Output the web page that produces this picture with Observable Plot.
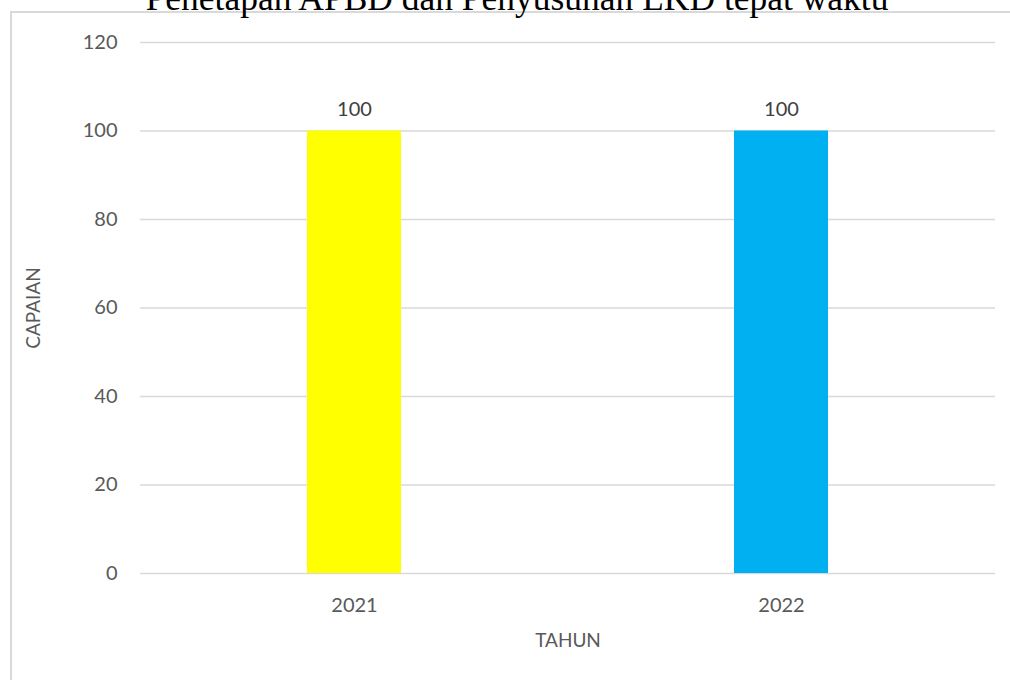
<!DOCTYPE html>
<html>
<head>
<meta charset="utf-8">
<script src="https://cdn.jsdelivr.net/npm/d3@7"></script>
<script src="https://cdn.jsdelivr.net/npm/@observablehq/plot@0.6"></script>
<style>
  html, body { margin: 0; padding: 0; background: #fff; overflow: hidden; }
  #wrap { position: relative; width: 1010px; height: 680px; overflow: hidden; }
  #border { position: absolute; left: 10px; top: 11px; width: 1100px; height: 800px; border: 2px solid #D9D9D9; box-sizing: border-box; }
  #title { position: absolute; left: 0; width: 1010px; text-align: center; font-family: "Liberation Serif", serif; color: #000; white-space: nowrap; }
  #chart { position: absolute; left: 0; top: 0; }
</style>
</head>
<body>
<div id="wrap">
  <div id="border"></div>
  <div id="title">Penetapan APBD dan Penyusunan LKD tepat waktu</div>
  <div id="chart"></div>
</div>
<script>
const years = ["2021", "2022"];
const values = [100, 100];
const barColors = ["#FFFF00", "#00B0F0"];
const yTicks = [0, 20, 40, 60, 80, 100, 120];
const yTitle = "CAPAIAN";
const xTitle = "TAHUN";

const data = years.map((y, i) => ({year: y, value: values[i], color: barColors[i]}));

// size title to match reference width
(function () {
  const t = document.getElementById("title");
  const c = document.createElement("canvas").getContext("2d");
  c.font = "100px 'Liberation Serif'";
  const w = c.measureText(t.textContent).width;
  const F = 100 * 745 / w;
  t.style.fontSize = F + "px";
  t.style.lineHeight = F + "px";
  t.style.left = "12px";
  t.style.top = (11 - 0.8375 * F) + "px";
})();

const chart = Plot.plot({
  width: 1010,
  height: 680,
  marginLeft: 140,
  marginRight: 15,
  marginTop: 42,
  marginBottom: 107,
  style: {fontFamily: "Lato, 'Open Sans', sans-serif", fontSize: "20px", color: "#595959", background: "transparent"},
  x: {domain: years, paddingInner: 0.78, paddingOuter: 0.39, label: null},
  y: {domain: [0, 120], ticks: yTicks, label: null},
  color: {type: "identity"},
  marks: [
    Plot.gridY(yTicks, {stroke: "#D9D9D9", strokeOpacity: 1, strokeWidth: 1.5}),
    Plot.barY(data, {x: "year", y: "value", fill: "color"}),
    Plot.text(data, {x: "year", y: "value", text: d => String(d.value), dy: -21, fill: "#404040", fontSize: 20}),
    Plot.axisY({ticks: yTicks, tickSize: 0, tickPadding: 23, label: null}),
    Plot.axisX({tickSize: 0, tickPadding: 24, label: null}),
    Plot.text([yTitle], {frameAnchor: "left", dx: -107, rotate: -90, textAnchor: "middle", fill: "#595959", fontSize: 19}),
    Plot.text([xTitle], {frameAnchor: "bottom", dy: 73, textAnchor: "middle", fill: "#595959", fontSize: 19})
  ]
});
document.getElementById("chart").appendChild(chart);
</script>
</body>
</html>
